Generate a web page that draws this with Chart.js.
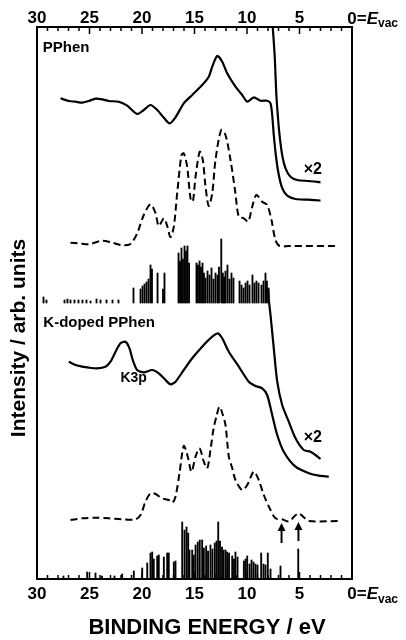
<!DOCTYPE html>
<html>
<head>
<meta charset="utf-8">
<script src="https://cdn.jsdelivr.net/npm/chart.js@4.4.0/dist/chart.umd.min.js"></script>
<style>
  html, body { margin: 0; padding: 0; background: #fff; }
</style>
</head>
<body>
<canvas id="chart" width="406" height="640"></canvas>
<script>
// UPS of PPhen and K-doped PPhen, binding energy axis (eV, 0 = E_vac)
const FONT = "'Liberation Sans', Arial, sans-serif";

const energyTicks = [30, 25, 20, 15, 10, 5, 0];

// PPhen measured spectrum
const pphenExpE = [27.76, 26.97, 26.33, 25.70, 25.07, 24.43, 23.79, 23.16, 22.21, 21.41, 20.46, 19.83, 19.19, 18.55, 17.92, 17.38, 16.81, 16.02, 15.22, 14.27, 13.64, 13.31, 12.84, 12.36, 11.89, 11.10, 10.46, 9.98, 9.35, 8.71, 8.08, 7.76, 7.60, 7.45, 7.22, 6.97, 6.65, 6.17, 5.38, 4.2, 3.0];
const pphenExpI = [480.7, 478, 477.3, 476.3, 478, 480.3, 479.7, 478, 477.3, 473.3, 465, 469, 474, 469, 461.3, 455.7, 461.7, 475.7, 484, 494, 502.3, 512.3, 523, 517.3, 505.7, 492.3, 484, 477.3, 481.7, 478.3, 478.3, 475.7, 464, 444, 421, 404, 391, 383.3, 380, 379.3, 378.5];

// PPhen onset region, x2
const pphenX2E = [7.55, 7.45, 7.35, 7.22, 7.07, 6.90, 6.65, 6.33, 5.86, 5.22, 4.11, 3.0];
const pphenX2I = [552, 537.3, 520.7, 487.3, 464, 444, 424, 410.7, 402.3, 399, 398, 396.7];

// PPhen calculated DOS (dashed)
const pphenCalcE = [26.81, 26.02, 25.07, 23.79, 22.84, 21.89, 21.10, 20.46, 19.83, 19.19, 18.71, 18.40, 17.92, 17.60, 17.29, 16.97, 16.65, 16.24, 16.02, 15.70, 15.38, 15.16, 14.90, 14.50, 14.21, 13.95, 13.64, 13.31, 13.0, 12.46, 12.05, 11.57, 11.10, 10.78, 10.30, 9.89, 9.50, 9.10, 8.55, 8.08, 7.67, 7.29, 6.90, 6.02, 1.26];
const pphenCalcI = [336.3, 335.7, 334.7, 338.3, 336.3, 333.7, 335, 345.7, 364, 374.7, 365.7, 353, 360.7, 353, 341.7, 352.3, 385.7, 424, 425.7, 412.3, 380.7, 377.3, 402.3, 427.3, 419, 392.3, 373, 385.7, 419, 449, 444, 419, 385.7, 362.3, 360.7, 357.3, 372.3, 384, 377.3, 374, 359, 339, 333, 333, 333];

// PPhen calculated levels (sticks)
const pphenStickBase = 276;
const pphenStickE = [29.38, 29.10, 27.38, 27.10, 26.81, 26.43, 26.05, 25.67, 25.29, 24.90, 24.33, 23.95, 23.38, 22.81, 22.24, 20.81, 20.14, 19.95, 19.76, 19.57, 19.38, 19.19, 19.05, 18.52, 18.00, 17.86, 16.52, 16.38, 16.24, 16.10, 15.95, 15.81, 15.67, 15.52, 14.81, 14.67, 14.52, 14.38, 14.24, 14.10, 13.95, 13.76, 13.57, 13.38, 13.19, 13.00, 12.81, 12.67, 12.45, 12.30, 12.18, 12.05, 11.86, 11.67, 11.48, 11.29, 10.71, 10.52, 10.33, 10.14, 9.95, 9.76, 9.48, 9.29, 9.10, 8.90, 8.62, 8.43, 8.24, 8.10, 7.95];
const pphenStickH = [6, 3, 3, 4, 3, 3, 3, 3, 3, 2, 4, 3, 3, 3, 3, 15, 14, 17, 19, 21, 24, 38, 34, 30, 14, 30, 50, 42, 55, 44, 57, 52, 57, 40, 40, 38, 42, 36, 40, 30, 25, 32, 28, 35, 24, 30, 28, 36, 64, 30, 26, 32, 38, 24, 30, 25, 22, 18, 15, 20, 22, 18, 28, 20, 22, 20, 18, 22, 30, 22, 15];

// K-doped PPhen measured spectrum
const kExpE = [26.97, 26.33, 25.70, 25.07, 24.27, 23.48, 23.0, 22.52, 22.05, 21.57, 21.19, 20.88, 20.46, 19.83, 19.03, 18.40, 17.76, 17.29, 16.81, 16.02, 15.22, 14.27, 13.31, 12.78, 12.36, 11.73, 10.78, 9.83, 9.19, 8.55, 8.08, 7.60, 7.12, 6.50, 5.38, 4.11, 3.16, 2.21];
const kExpI = [217.3, 214, 212.3, 211.3, 210.7, 212.3, 217.3, 227.3, 235.7, 237.3, 230.7, 219, 209, 206.7, 209, 205.7, 199, 194.7, 197.3, 209, 220.7, 232.3, 242.3, 245.7, 240.7, 227.3, 212.3, 197.3, 193, 190.7, 184, 164, 144, 127.3, 112.3, 105.7, 103.3, 102.3];

// K-doped onset region, x2
const kX2E = [7.98, 7.92, 7.76, 7.45, 7.12, 6.65, 6.02, 5.38, 4.59, 3.95, 3.48, 3.0];
const kX2I = [290, 279, 264, 230.7, 197.3, 174, 157.3, 140.7, 129, 127.3, 124, 120];

// K-doped calculated DOS (dashed)
const kCalcE = [26.81, 25.70, 24.43, 23.16, 21.89, 20.62, 20.14, 19.67, 19.19, 18.71, 18.08, 17.45, 17.12, 16.81, 16.43, 16.02, 15.64, 15.29, 14.90, 14.52, 14.11, 13.79, 13.48, 13.19, 12.90, 12.62, 12.33, 12.05, 11.73, 11.38, 11.10, 10.46, 9.98, 9.35, 8.88, 8.40, 7.76, 7.29, 6.65, 6.02, 5.55, 5.07, 4.59, 4.11, 1.26];
const kCalcI = [59, 60.7, 61.3, 60.7, 59.7, 59.7, 64, 77.3, 85.7, 85, 80.7, 79, 76.3, 82.3, 105.7, 133, 122.3, 107.3, 122.3, 130.7, 117.3, 110.7, 129, 150, 163, 172.3, 165, 154, 122.3, 110, 99, 89, 94, 107.3, 99, 84, 69, 60.7, 59.7, 57.5, 62, 65.7, 61.7, 58, 58];

// K-doped calculated levels (sticks)
const kStickBase = 0;
const kStickE = [27.48, 25.22, 24.43, 23.81, 22.62, 21.89, 20.78, 19.98, 19.50, 19.19, 19.03, 18.88, 18.55, 18.40, 17.92, 17.60, 17.45, 16.97, 16.81, 16.17, 15.95, 15.76, 15.60, 15.48, 15.22, 15.07, 14.90, 14.69, 14.50, 14.27, 14.11, 13.89, 13.71, 13.48, 13.29, 13.07, 12.90, 12.74, 12.57, 12.38, 12.24, 12.05, 11.89, 11.71, 11.41, 11.24, 11.10, 10.90, 10.30, 10.14, 9.98, 9.76, 9.57, 9.38, 9.19, 9.00, 8.65, 8.43, 8.24, 8.02, 7.76, 6.81, 5.12];
const kStickH = [3, 7, 6, 3, 3, 5, 8, 11, 16, 26, 27, 20, 23, 24, 22, 26, 26, 17, 18, 57, 49, 52, 46, 29, 29, 24, 34, 37, 39, 39, 31, 33, 28, 34, 30, 36, 38, 57, 38, 32, 29, 29, 27, 26, 23, 20, 27, 22, 18, 20, 23, 15, 19, 17, 15, 14, 26, 15, 14, 26, 10, 13, 30];

const pointsOf = (xs, ys) => xs.map((x, i) => ({ x: x, y: ys[i] }));
const sticksOf = (xs, hs, base) => xs.map((x, i) => ({ x: x, y: [base, base + hs[i]] }));

function solidLine(label, xs, ys) {
    return {
        type: 'line', label: label, data: pointsOf(xs, ys),
        borderColor: '#000', borderWidth: 2.2, pointRadius: 0, tension: 0.25, fill: false
    };
}
function dashedLine(label, xs, ys) {
    return {
        type: 'line', label: label, data: pointsOf(xs, ys),
        borderColor: '#000', borderWidth: 2, borderDash: [7, 4], pointRadius: 0, tension: 0.3, fill: false
    };
}
function stickSet(label, xs, hs, base) {
    return {
        type: 'bar', label: label, data: sticksOf(xs, hs, base),
        backgroundColor: '#000', borderWidth: 0, barThickness: 1.2, stack: 'levels'
    };
}

// frame, inward ticks, labels and arrows
const decorPlugin = {
    id: 'decor',
    afterDraw(chart) {
        const { ctx, chartArea: a, scales } = chart;
        const x = scales.x, y = scales.y;
        ctx.save();
        ctx.strokeStyle = '#000';
        ctx.fillStyle = '#000';
        ctx.lineWidth = 2;
        ctx.strokeRect(a.left, a.top, a.right - a.left, a.bottom - a.top);

        ctx.lineWidth = 1.5;
        for (let e = 0; e <= 30; e++) {
            const px = x.getPixelForValue(e);
            const len = e % 5 === 0 ? 7 : 4;
            ctx.beginPath();
            ctx.moveTo(px, a.top); ctx.lineTo(px, a.top + len);
            ctx.moveTo(px, a.bottom); ctx.lineTo(px, a.bottom - len);
            ctx.stroke();
        }

        // 0 = E_vac labels on both axes
        const drawEvac = (midY) => {
            ctx.textBaseline = 'middle';
            ctx.textAlign = 'left';
            ctx.font = 'bold 17px ' + FONT;
            let px = x.getPixelForValue(0) - ctx.measureText('0').width / 2;
            ctx.fillText('0=', px, midY);
            px += ctx.measureText('0=').width;
            ctx.font = 'italic bold 17px ' + FONT;
            ctx.fillText('E', px, midY);
            px += ctx.measureText('E').width;
            ctx.font = 'bold 12px ' + FONT;
            ctx.fillText('vac', px, midY + 5);
        };
        drawEvac(a.top - 8);
        drawEvac(a.bottom + 15.5);

        // axis titles
        ctx.textAlign = 'center';
        ctx.textBaseline = 'middle';
        ctx.font = 'bold 22px ' + FONT;
        ctx.fillText('BINDING ENERGY / eV', 207, 628);
        ctx.save();
        ctx.translate(19, 338);
        ctx.rotate(-Math.PI / 2);
        ctx.font = 'bold 21px ' + FONT;
        ctx.fillText('Intensity / arb. units', 0, 0);
        ctx.restore();

        // spectrum labels
        ctx.textAlign = 'left';
        ctx.textBaseline = 'alphabetic';
        ctx.font = 'bold 15px ' + FONT;
        ctx.fillText('PPhen', x.getPixelForValue(29.45), y.getPixelForValue(527));
        ctx.fillText('K-doped PPhen', x.getPixelForValue(29.4), y.getPixelForValue(252));
        ctx.font = 'bold 14px ' + FONT;
        ctx.fillText('K3p', x.getPixelForValue(22.05), y.getPixelForValue(197));
        ctx.font = 'bold 16px ' + FONT;
        ctx.fillText('\u00d72', x.getPixelForValue(4.6), y.getPixelForValue(405));
        ctx.fillText('\u00d72', x.getPixelForValue(4.6), y.getPixelForValue(137));

        // arrows marking gap states
        const arrow = (e, tip, tail) => {
            const px = x.getPixelForValue(e);
            const ty = y.getPixelForValue(tip), by = y.getPixelForValue(tail);
            ctx.lineWidth = 2;
            ctx.beginPath(); ctx.moveTo(px, by); ctx.lineTo(px, ty + 5); ctx.stroke();
            ctx.beginPath();
            ctx.moveTo(px, ty); ctx.lineTo(px - 4, ty + 8); ctx.lineTo(px + 4, ty + 8); ctx.closePath();
            ctx.fill();
        };
        arrow(6.71, 56, 36);
        arrow(5.10, 57, 38);
        ctx.restore();
    }
};

const tickFont = { family: FONT, size: 17, weight: 'bold' };

new Chart(document.getElementById('chart'), {
    type: 'line',
    data: {
        datasets: [
            solidLine('PPhen', pphenExpE, pphenExpI),
            solidLine('PPhen x2', pphenX2E, pphenX2I),
            dashedLine('PPhen calc', pphenCalcE, pphenCalcI),
            stickSet('PPhen levels', pphenStickE, pphenStickH, pphenStickBase),
            solidLine('K-doped PPhen', kExpE, kExpI),
            solidLine('K-doped PPhen x2', kX2E, kX2I),
            dashedLine('K-doped calc', kCalcE, kCalcI),
            stickSet('K-doped levels', kStickE, kStickH, kStickBase)
        ]
    },
    options: {
        responsive: false,
        animation: false,
        devicePixelRatio: 1,
        layout: { padding: { left: 0, right: 54, top: 0, bottom: 0 } },
        plugins: { legend: { display: false }, tooltip: { enabled: false } },
        scales: {
            x: {
                type: 'linear', position: 'bottom', reverse: true, min: 0, max: 30, offset: false,
                afterFit: s => { s.height = 61; },
                afterBuildTicks: s => { s.ticks = energyTicks.map(v => ({ value: v })); },
                grid: { display: false, drawTicks: false },
                border: { display: false },
                ticks: {
                    autoSkip: false, maxRotation: 0, padding: 5, color: '#000', font: tickFont,
                    callback: v => (v === 0 ? '' : String(v))
                }
            },
            x2: {
                type: 'linear', position: 'top', reverse: true, min: 0, max: 30, offset: false,
                afterFit: s => { s.height = 27; },
                afterBuildTicks: s => { s.ticks = energyTicks.map(v => ({ value: v })); },
                grid: { display: false, drawTicks: false },
                border: { display: false },
                ticks: {
                    autoSkip: false, maxRotation: 0, padding: -2, color: '#000', font: tickFont,
                    callback: v => (v === 0 ? '' : String(v))
                }
            },
            y: {
                min: 0, max: 552, stacked: false,
                afterFit: s => { s.width = 37; },
                grid: { display: false, drawTicks: false },
                border: { display: false },
                ticks: { display: false }
            }
        }
    },
    plugins: [decorPlugin]
});
</script>
</body>
</html>
